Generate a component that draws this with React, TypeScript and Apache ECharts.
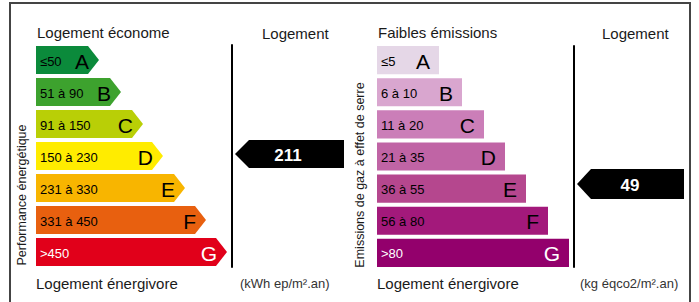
import React, { useEffect, useRef } from "react";
import * as echarts from "echarts";

const classes = ["A", "B", "C", "D", "E", "F", "G"];

const energyRanges = ["≤50", "51 à 90", "91 à 150", "150 à 230", "231 à 330", "331 à 450", ">450"];
const energyBarLengths = [63, 85, 107, 127, 149, 170, 191];
const energyColors = ["#0b8a3b", "#3da22e", "#b9cf06", "#ffec00", "#f8b500", "#e8600f", "#e1001a"];
const energyTextColors = ["#000", "#000", "#000", "#000", "#000", "#000", "#fff"];

const gasRanges = ["≤5", "6 à 10", "11 à 20", "21 à 35", "36 à 55", "56 à 80", ">80"];
const gasBarLengths = [62, 85, 107, 128, 149, 171, 192];
const gasColors = ["#e5d7e7", "#d9a6cf", "#cb7eb8", "#c064a5", "#b5478e", "#a3197b", "#93006c"];
const gasTextColors = ["#000", "#000", "#000", "#000", "#000", "#000", "#fff"];

const energyValue = 211;
const energyClass = "D";
const gasValue = 49;
const gasClass = "E";

const energyTitle = "Logement économe";
const gasTitle = "Faibles émissions";
const bottomTitle = "Logement énergivore";
const columnTitle = "Logement";
const energyUnit = "(kWh ep/m².an)";
const gasUnit = "(kg éqco2/m².an)";
const energyAxisName = "Performance énergétique";
const gasAxisName = "Emissions de gaz à effet de serre";

const SANS = "'Liberation Sans', Arial, Helvetica, sans-serif";
const NARROW = "'Liberation Sans Narrow', 'Liberation Sans', Arial, sans-serif";

function barSeries(
  gridIdx: number,
  lengths: number[],
  ranges: string[],
  colors: string[],
  textColors: string[],
  arrow: boolean
) {
  return {
    type: "custom",
    xAxisIndex: gridIdx,
    yAxisIndex: gridIdx,
    encode: { x: 0, y: 1 },
    data: lengths.map((l, i) => [l, i]),
    renderItem: (params: any, api: any) => {
      const len = api.value(0);
      const idx = api.value(1);
      const s = api.coord([0, idx]);
      const e = api.coord([len, idx]);
      const h = api.size([0, 1])[1] * 0.875;
      const y0 = s[1] - h / 2;
      const y1 = s[1] + h / 2;
      const d = arrow ? 11 : 0;
      const shape = arrow
        ? {
            type: "polygon",
            shape: {
              points: [
                [s[0], y0],
                [e[0] - d, y0],
                [e[0], s[1]],
                [e[0] - d, y1],
                [s[0], y1],
              ],
            },
            style: { fill: colors[idx] },
          }
        : {
            type: "rect",
            shape: { x: s[0], y: y0, width: e[0] - s[0], height: h },
            style: { fill: colors[idx] },
          };
      return {
        type: "group",
        children: [
          shape,
          {
            type: "text",
            style: {
              text: ranges[idx],
              x: s[0] + 4,
              y: s[1] + 1,
              align: "left",
              verticalAlign: "middle",
              fill: textColors[idx],
              fontSize: 13,
              fontFamily: NARROW,
            },
          },
          {
            type: "text",
            style: {
              text: classes[idx],
              x: e[0] - (arrow ? 10 : 9),
              y: s[1] + 1,
              align: "right",
              verticalAlign: "middle",
              fill: textColors[idx],
              fontSize: 21,
              fontFamily: SANS,
            },
          },
        ],
      };
    },
  };
}

function markerSeries(gridIdx: number, cls: string, value: number, h: number, dy: number) {
  return {
    type: "custom",
    xAxisIndex: gridIdx,
    yAxisIndex: gridIdx,
    encode: { x: 0, y: 1 },
    data: [[0, classes.indexOf(cls), value]],
    renderItem: (params: any, api: any) => {
      const idx = api.value(1);
      const c = api.coord([0, idx]);
      const cs = params.coordSys;
      const tip = cs.x + 3;
      const right = cs.x + cs.width;
      const cy = c[1] + dy;
      return {
        type: "group",
        children: [
          {
            type: "polygon",
            shape: {
              points: [
                [tip, cy],
                [tip + 14, cy - h / 2],
                [right, cy - h / 2],
                [right, cy + h / 2],
                [tip + 14, cy + h / 2],
              ],
            },
            style: { fill: "#000" },
          },
          {
            type: "text",
            style: {
              text: String(api.value(2)),
              x: tip + 53,
              y: cy + 1,
              align: "center",
              verticalAlign: "middle",
              fill: "#fff",
              fontSize: 17,
              fontWeight: "bold",
              fontFamily: SANS,
            },
          },
        ],
      };
    },
  };
}

export default function App() {
  const ref = useRef<HTMLDivElement>(null);
  useEffect(() => {
    document.body.style.margin = "0";
    const chart = echarts.init(ref.current!, null, { renderer: "svg" });
    const grids = [
      { left: 36, top: 44, width: 200, height: 224 },
      { left: 232, top: 45, width: 112, height: 222 },
      { left: 377, top: 44, width: 200, height: 225 },
      { left: 574, top: 46, width: 110, height: 221 },
    ];
    const xAxes = grids.map((_, i) => ({
      type: "value",
      gridIndex: i,
      min: 0,
      max: i % 2 === 0 ? 200 : 1,
      show: false,
    }));
    const yAxes = grids.map((_, i) => ({
      type: "category",
      gridIndex: i,
      data: classes,
      inverse: true,
      axisLabel: { show: false },
      axisTick: { show: false },
      splitLine: { show: false },
      axisLine: { show: i % 2 === 1, lineStyle: { color: "#000", width: 2 } },
    }));
    const titleText = (text: string, x: number, y: number, size = 15, color = "#1a1a1a") => ({
      type: "text",
      x,
      y,
      style: { text, fill: color, fontSize: size, fontFamily: SANS, verticalAlign: "middle" },
    });
    chart.setOption({
      animation: false,
      grid: grids,
      xAxis: xAxes,
      yAxis: yAxes,
      series: [
        barSeries(0, energyBarLengths, energyRanges, energyColors, energyTextColors, true),
        markerSeries(1, energyClass, energyValue, 28, -2),
        barSeries(2, gasBarLengths, gasRanges, gasColors, gasTextColors, false),
        markerSeries(3, gasClass, gasValue, 30, -4),
      ],
      graphic: [
        {
          type: "rect",
          shape: { x: 10, y: 3, width: 680, height: 330 },
          style: { fill: "none", stroke: "#444", lineWidth: 2 },
        },
        titleText(energyTitle, 37, 32),
        titleText(columnTitle, 262, 33),
        titleText(bottomTitle, 36, 283),
        titleText(energyUnit, 240, 283, 13, "#333"),
        titleText(gasTitle, 378, 32),
        titleText(columnTitle, 602, 33),
        titleText(bottomTitle, 377, 283),
        titleText(gasUnit, 580, 283, 13, "#333"),
        {
          type: "text",
          x: 22,
          y: 195,
          rotation: Math.PI / 2,
          style: {
            text: energyAxisName,
            fill: "#1a1a1a",
            fontSize: 12.5,
            fontFamily: SANS,
            align: "center",
            verticalAlign: "middle",
          },
        },
        {
          type: "text",
          x: 360,
          y: 175,
          rotation: Math.PI / 2,
          style: {
            text: gasAxisName,
            fill: "#1a1a1a",
            fontSize: 12.5,
            fontFamily: SANS,
            align: "center",
            verticalAlign: "middle",
          },
        },
      ],
    });
    return () => chart.dispose();
  }, []);
  return <div ref={ref} style={{ width: 699, height: 302 }} />;
}
